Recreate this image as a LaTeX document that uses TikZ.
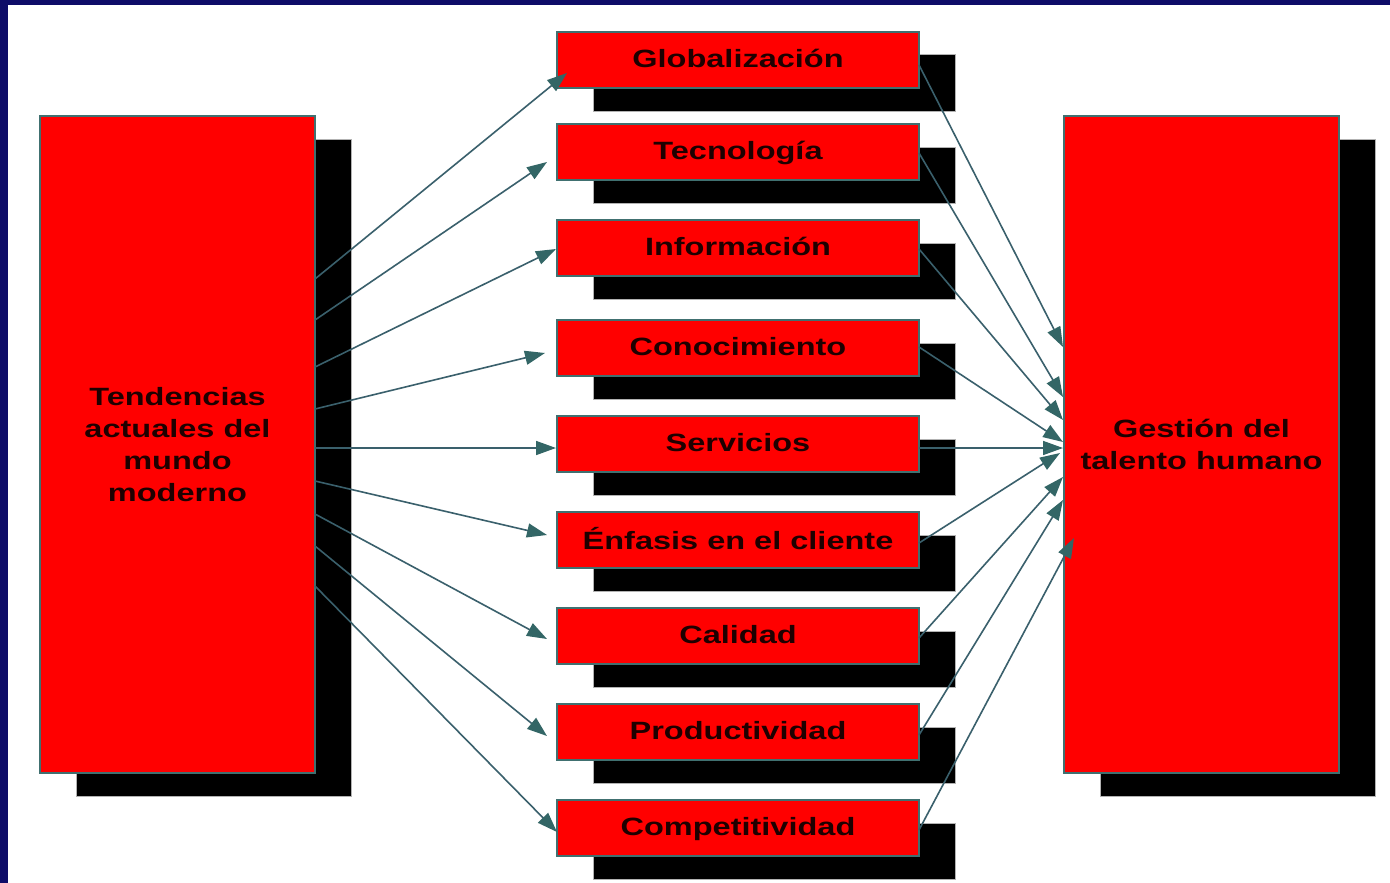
\documentclass[tikz,border=0pt]{standalone}
\usepackage{fontspec}
\setmainfont{Liberation Sans}[FakeStretch=1.3]
\usetikzlibrary{arrows.meta,calc}
\definecolor{navy}{RGB}{14,12,104}
\definecolor{edgec}{RGB}{64,112,112}
\definecolor{arrc}{RGB}{58,96,108}
\definecolor{headc}{RGB}{51,102,102}
\definecolor{ink}{RGB}{30,0,0}
\begin{document}
\begin{tikzpicture}[x=1pt,y=-1pt,
 redbox/.style={draw=edgec,line width=1.5pt,fill=red,anchor=north west,inner sep=0pt,outer sep=0pt,text=ink,font=\fontsize{25}{32}\selectfont\bfseries,align=center},
 shadowbox/.style={draw=gray!60,line width=1pt,fill=black,anchor=north west,inner sep=0pt,outer sep=0pt},
 small/.style={minimum width=362pt,minimum height=56pt,text depth=4pt},
 big/.style={minimum width=275pt,minimum height=657pt},
 conn/.style={draw=arrc,line width=1.6pt,-{Triangle[length=20pt,width=14pt,fill=headc,color=headc]}}]
\useasboundingbox (0,0) rectangle (1390,883);
\fill[navy] (0,0) rectangle (1390,883);
\fill[white] (8,5) rectangle (1390,883);
% big boxes
\node[shadowbox,big] (Ls) at (76,139) {};
\node[redbox,big] (L) at (40,116) {Tendencias\\actuales del\\mundo\\moderno};
\node[shadowbox,big] (Rs) at (1100,139) {};
\node[redbox,big] (R) at (1064,116) {Gestión del\\talento humano};
% small boxes
\foreach \n/\t/\lab in {1/32/Globalización,2/124/Tecnología,3/220/Información,4/320/Conocimiento,5/416/Servicios,6/512/Énfasis en el cliente,7/608/Calidad,8/704/Productividad,9/800/Competitividad}{
  \node[shadowbox,small] (s\n) at (593,\t+23) {};
  \node[redbox,small] (b\n) at (557,\t) {\lab};
}
% left arrows
\draw[conn] ([yshift=-163pt]L.north east) -- ([xshift=10pt,yshift=-13pt]b1.west);
\draw[conn] ([yshift=-204pt]L.north east) -- ([xshift=-10pt,yshift=-10pt]b2.west);
\draw[conn] ([yshift=-251pt]L.north east) -- ([xshift=-1pt,yshift=-1pt]b3.west);
\draw[conn] ([yshift=-293pt]L.north east) -- ([xshift=-12pt,yshift=-5pt]b4.west);
\draw[conn] ([yshift=-332pt]L.north east) -- ([xshift=-1pt,yshift=-4pt]b5.west);
\draw[conn] ([yshift=-365pt]L.north east) -- ([xshift=-10pt,yshift=5pt]b6.west);
\draw[conn] ([yshift=-398pt]L.north east) -- ([xshift=-10pt,yshift=-3pt]b7.west);
\draw[conn] ([yshift=-430pt]L.north east) -- ([xshift=-10pt,yshift=-4pt]b8.west);
\draw[conn] ([yshift=-470pt]L.north east) -- ([xshift=0pt,yshift=-4pt]b9.west);
% right arrows
\draw[conn] ([yshift=-5pt]b1.east) -- ([xshift=-1pt,yshift=-231pt]R.north west);
\draw[conn] ([yshift=-1pt]b2.east) -- ([xshift=-1pt,yshift=-281pt]R.north west);
\draw[conn] ([yshift=-1pt]b3.east) -- ([xshift=-1pt,yshift=-304pt]R.north west);
\draw[conn] ([yshift=1pt]b4.east) -- ([xshift=-1pt,yshift=-326pt]R.north west);
\draw[conn] ([yshift=-4pt]b5.east) -- ([xshift=-1pt,yshift=-332pt]R.north west);
\draw[conn] ([yshift=-3pt]b6.east) -- ([xshift=-4pt,yshift=-337pt]R.north west);
\draw[conn] ([yshift=-2pt]b7.east) -- ([xshift=-1pt,yshift=-361pt]R.north west);
\draw[conn] ([yshift=-3pt]b8.east) -- ([xshift=-1pt,yshift=-384pt]R.north west);
\draw[conn] ([yshift=-2pt]b9.east) -- ([xshift=10pt,yshift=-422pt]R.north west);
\end{tikzpicture}
\end{document}
